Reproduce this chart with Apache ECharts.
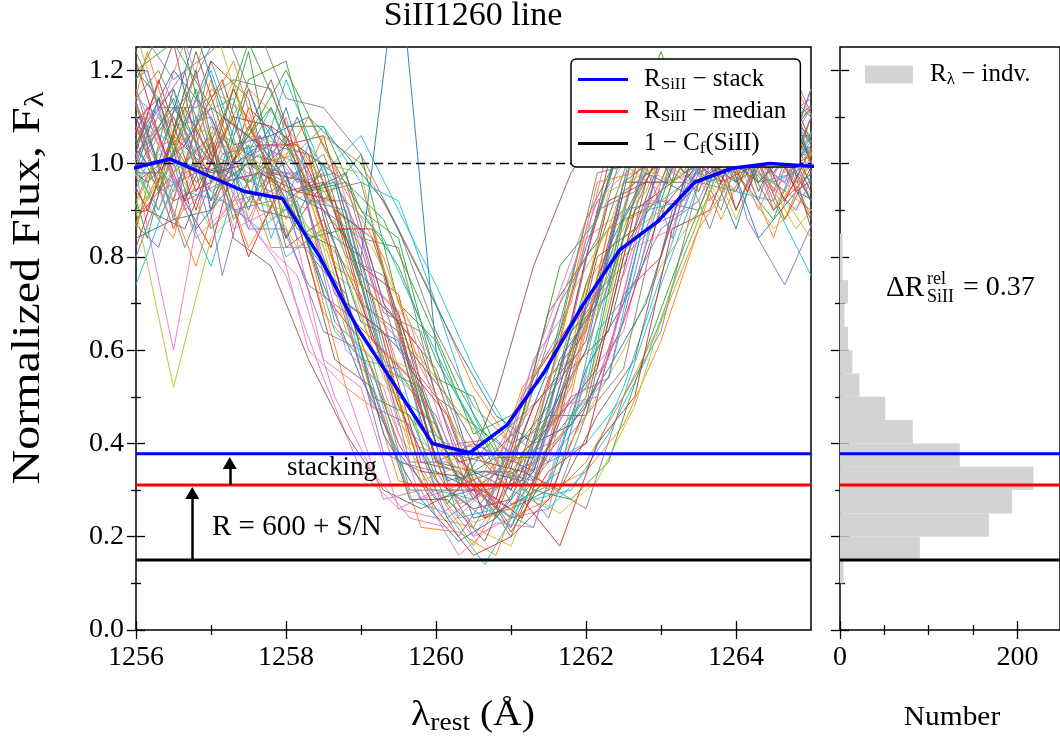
<!DOCTYPE html>
<html>
<head>
<meta charset="utf-8">
<script src="https://cdn.jsdelivr.net/npm/echarts@6/dist/echarts.min.js"></script>
<style>
html,body{margin:0;padding:0;background:#fff;}
#chart{width:1060px;height:750px;}
</style>
</head>
<body>
<div id="chart"></div>
<script>
// ---------------- DATA ----------------
const waveA = [1256.0,1256.5,1257.0,1257.5,1258.0,1258.5,1259.0,1259.5,1260.0,1260.5,1261.0,1261.5,1262.0,1262.5,1263.0,1263.5,1264.0,1264.5,1265.0];
const waveB = [1255.8,1256.3,1256.8,1257.3,1257.8,1258.3,1258.8,1259.3,1259.8,1260.3,1260.8,1261.3,1261.8,1262.3,1262.8,1263.3,1263.8,1264.3,1264.8,1265.3];
const waveC = [1255.65,1256.15,1256.65,1257.15,1257.65,1258.15,1258.65,1259.15,1259.65,1260.15,1260.65,1261.15,1261.65,1262.15,1262.65,1263.15,1263.65,1264.15,1264.65,1265.15];

const specA = [
  [1.02,1.12,1.00,0.96,1.04,0.90,0.80,1.45,0.60,0.34,0.30,0.44,0.66,0.88,1.02,0.96,1.04,0.98,1.06],
  [1.12,0.92,1.18,0.88,1.06,0.84,0.74,0.48,0.40,0.28,0.42,0.52,0.84,0.90,1.12,0.94,1.14,0.96,0.90],
  [0.86,1.16,0.96,1.24,0.84,1.00,0.74,0.66,0.36,0.32,0.20,0.40,0.50,0.88,0.92,1.16,0.98,0.88,1.10],
  [1.22,0.96,0.82,1.12,1.04,1.06,0.78,0.72,0.40,0.38,0.30,0.54,0.64,0.96,0.96,1.18,0.90,1.10,0.94],
  [0.80,1.02,1.12,0.86,0.86,0.64,0.60,0.36,0.34,0.22,0.36,0.40,0.70,0.78,1.00,0.94,1.12,0.92,1.16],
  [1.04,1.26,0.90,1.08,0.92,0.98,0.70,0.64,0.36,0.40,0.36,0.68,0.80,1.08,1.10,1.02,0.94,1.14,0.86],
  [0.98,0.60,1.04,0.86,1.10,0.78,0.72,0.44,0.38,0.20,0.24,0.26,0.54,0.64,0.96,0.98,1.18,0.90,1.06],
  [1.16,0.88,1.22,1.00,0.98,0.94,0.96,0.66,0.56,0.34,0.34,0.24,0.46,0.56,0.92,0.90,1.10,1.04,1.06],
  [0.90,0.52,0.84,0.92,0.90,0.84,0.56,0.50,0.24,0.22,0.18,0.38,0.50,0.84,0.90,1.08,0.88,1.08,1.02],
  [1.14,1.08,1.10,0.92,1.18,0.98,1.06,0.90,0.74,0.56,0.42,0.36,0.40,0.50,0.74,0.96,1.20,0.96,1.00],
  [0.84,0.88,0.90,1.16,0.94,0.90,0.66,0.62,0.34,0.30,0.24,0.46,0.60,0.96,1.02,1.06,0.86,1.12,1.06],
  [1.08,0.94,1.04,0.82,0.96,0.68,0.58,0.32,0.30,0.18,0.32,0.38,0.74,0.86,1.06,0.98,1.04,0.84,1.10],
  [1.18,1.34,1.02,1.26,1.08,1.08,0.90,0.84,0.54,0.50,0.32,0.46,0.46,0.80,0.88,1.16,0.96,1.20,1.00],
  [0.82,1.06,0.98,1.00,0.94,0.96,0.76,0.68,0.40,0.34,0.21,0.34,0.40,0.72,0.80,1.06,1.04,1.06,0.92],
  [1.10,0.86,1.08,1.02,1.00,0.90,0.84,0.54,0.46,0.28,0.38,0.46,0.80,0.90,1.18,0.98,1.02,0.94,1.16],
  [1.00,0.92,0.96,1.04,0.84,0.96,0.74,0.66,0.36,0.34,0.22,0.38,0.48,0.82,0.94,1.10,0.90,1.08,0.96],
  [1.16,0.96,1.02,0.98,0.94,0.58,0.52,0.26,0.30,0.20,0.32,0.36,0.66,0.76,1.00,0.96,1.14,0.94,1.04],
  [0.92,1.10,0.94,1.00,0.96,1.02,0.84,0.82,0.50,0.44,0.27,0.31,0.26,0.50,0.64,0.96,0.94,1.12,0.92],
  [1.28,1.02,1.32,1.06,1.04,1.00,0.98,0.64,0.54,0.32,0.38,0.38,0.68,0.80,1.12,1.12,1.16,0.96,0.84],
  [0.74,0.96,0.78,1.04,0.80,0.86,0.58,0.56,0.30,0.28,0.22,0.44,0.52,0.90,0.92,0.98,0.94,0.92,0.76],
  [1.04,1.20,1.10,0.90,1.12,0.86,0.80,0.50,0.44,0.24,0.26,0.30,0.56,0.70,1.02,1.08,0.96,1.02,1.12],
  [0.94,0.84,1.16,1.10,0.88,1.06,1.00,0.86,0.70,0.52,0.40,0.30,0.34,0.44,0.62,0.86,1.12,0.90,1.00],
  [1.20,1.10,0.92,1.18,1.22,0.92,1.02,0.70,0.62,0.42,0.46,0.56,0.88,1.04,1.24,1.02,1.08,1.16,1.04],
  [0.88,0.98,1.06,0.80,0.98,0.72,0.62,0.40,0.26,0.16,0.20,0.28,0.48,0.66,0.90,1.00,0.98,1.04,0.88],
  [1.06,1.16,0.86,0.96,1.06,0.92,0.86,0.60,0.50,0.30,0.26,0.36,0.46,0.70,0.86,0.92,1.10,0.98,1.12],
  [0.96,1.02,1.22,1.14,0.82,0.88,0.70,0.48,0.32,0.26,0.28,0.50,0.62,0.94,1.00,1.20,1.04,0.90,0.98],
  [1.02,1.10,0.94,0.88,0.76,0.54,0.34,0.26,0.24,0.30,0.44,0.66,0.88,1.00,0.94,1.08,1.00,0.96,1.04],
  [1.30,1.18,1.24,1.34,1.14,1.12,1.02,0.86,0.64,0.48,0.40,0.44,0.60,0.84,1.04,1.16,1.22,1.08,1.14],
  [0.90,1.00,0.86,0.94,0.92,0.80,0.62,0.42,0.30,0.23,0.26,0.32,0.46,0.60,0.78,0.90,0.98,0.86,0.94],
  [1.10,1.04,1.20,0.96,1.00,1.08,0.96,0.92,0.70,0.46,0.30,0.26,0.34,0.52,0.76,1.00,1.06,1.14,1.02],
  [0.98,1.14,0.92,1.06,0.96,0.74,0.54,0.38,0.28,0.30,0.36,0.56,0.82,1.06,1.14,1.02,0.96,1.08,0.92],
  [1.08,0.86,1.02,1.16,1.08,0.96,0.82,0.56,0.42,0.32,0.24,0.28,0.36,0.50,0.66,0.86,0.98,1.04,1.12],
  [1.20,1.26,1.12,1.06,1.20,1.04,0.90,0.78,0.58,0.44,0.38,0.48,0.74,0.98,1.22,1.12,1.04,1.18,1.10]
];
const specB = [
  [1.06,1.14,0.90,1.16,0.98,0.96,0.70,0.64,0.36,0.34,0.26,0.48,0.58,0.92,0.96,1.14,0.96,1.00,1.10,0.96],
  [0.90,0.82,1.08,0.90,0.92,0.74,0.68,0.38,0.34,0.20,0.32,0.36,0.64,0.74,1.00,1.00,1.04,0.98,0.90,1.06],
  [1.16,0.96,1.24,1.00,1.18,0.94,0.98,0.70,0.60,0.36,0.38,0.34,0.56,0.64,0.96,0.96,1.18,0.94,1.12,0.94],
  [0.92,1.06,0.84,0.92,0.94,0.90,0.60,0.52,0.28,0.31,0.28,0.58,0.70,1.04,1.04,1.04,0.98,1.00,0.94,1.10],
  [1.10,1.20,1.02,0.98,0.94,1.00,0.80,0.76,0.44,0.38,0.24,0.36,0.44,0.78,0.86,1.06,0.90,1.16,0.96,1.00],
  [0.84,1.02,0.98,1.18,0.88,0.94,0.64,0.56,0.32,0.35,0.30,0.52,0.58,0.94,0.98,1.18,0.94,1.04,1.04,1.10],
  [1.08,0.88,1.04,0.96,1.12,0.92,0.90,0.58,0.50,0.24,0.26,0.22,0.46,0.54,0.90,0.92,1.12,0.96,0.98,0.94],
  [1.22,1.00,1.28,1.04,1.06,1.10,1.02,0.92,0.76,0.60,0.46,0.40,0.44,0.56,0.70,0.96,1.06,1.06,1.10,1.16],
  [0.80,0.98,0.78,1.04,0.82,0.82,0.52,0.46,0.22,0.21,0.16,0.38,0.50,0.86,0.90,1.06,0.88,1.06,1.00,1.04],
  [1.12,0.94,1.16,0.88,0.98,0.84,0.86,0.56,0.52,0.32,0.37,0.37,0.64,0.72,1.02,1.00,1.20,0.96,1.04,0.98],
  [0.92,1.18,0.94,1.10,1.08,1.02,0.68,0.60,0.34,0.33,0.28,0.54,0.66,1.00,1.00,1.02,0.96,1.14,0.94,1.00],
  [1.26,0.94,0.98,1.00,1.04,1.02,0.96,0.68,0.64,0.40,0.41,0.32,0.50,0.54,0.86,0.90,1.10,0.92,1.18,1.00],
  [0.98,0.98,1.20,0.84,0.78,0.58,0.42,0.30,0.26,0.30,0.50,0.78,0.98,1.10,1.18,0.98,1.02,0.96,1.04,1.02],
  [1.10,0.90,1.14,0.86,0.90,0.60,0.52,0.28,0.30,0.16,0.23,0.22,0.48,0.58,0.92,0.92,1.10,0.90,1.08,0.94],
  [1.32,1.12,1.12,1.18,1.16,0.92,0.92,0.60,0.52,0.31,0.34,0.32,0.61,0.76,1.08,1.16,1.14,1.10,1.06,1.06],
  [0.96,1.08,1.00,0.92,1.02,0.86,0.76,0.54,0.42,0.27,0.30,0.40,0.72,0.86,1.10,1.04,0.92,1.00,0.86,0.96],
  [1.04,0.90,1.10,1.14,0.84,1.04,0.92,0.84,0.66,0.50,0.36,0.28,0.30,0.42,0.58,0.80,1.00,1.08,1.00,1.12],
  [0.88,1.14,0.86,0.96,1.08,0.82,0.72,0.42,0.28,0.19,0.24,0.34,0.60,0.82,0.98,0.94,1.06,0.84,0.94,0.90],
  [1.18,1.04,1.06,1.22,0.96,1.10,0.94,0.80,0.56,0.42,0.34,0.40,0.52,0.86,0.94,1.14,1.02,1.10,1.16,1.02],
  [1.00,1.10,0.96,1.02,1.12,0.94,0.96,0.88,0.70,0.52,0.38,0.30,0.28,0.36,0.60,0.82,1.02,0.96,1.04,1.00]
];
const specC = [
  [1.06,0.90,1.12,0.96,0.98,0.94,0.92,0.62,0.54,0.30,0.30,0.24,0.46,0.56,0.90,0.96,1.10,0.94,1.12,0.96],
  [1.14,1.20,0.92,0.96,0.98,0.98,0.72,0.66,0.36,0.36,0.26,0.46,0.54,0.90,0.94,1.16,0.96,1.02,0.96,1.16],
  [0.88,0.90,0.86,1.06,0.90,0.88,0.58,0.52,0.28,0.28,0.19,0.38,0.46,0.80,0.86,1.08,1.02,1.06,0.88,1.04],
  [1.08,1.04,1.26,1.02,1.06,0.96,1.00,0.74,0.66,0.40,0.39,0.30,0.48,0.50,0.82,0.86,1.08,1.04,1.06,0.98],
  [0.90,1.06,0.82,1.02,1.04,1.00,0.66,0.58,0.30,0.30,0.24,0.50,0.64,0.98,1.00,1.06,0.86,1.10,1.02,1.02],
  [1.18,0.92,1.08,1.06,0.96,0.82,0.88,0.60,0.56,0.36,0.40,0.36,0.60,0.68,1.00,0.96,1.04,1.00,1.04,0.96],
  [0.82,1.00,0.94,0.92,0.86,0.92,0.64,0.56,0.28,0.25,0.14,0.28,0.34,0.64,0.74,1.02,0.96,1.00,0.94,1.12],
  [1.10,1.00,1.00,0.98,1.04,0.94,0.96,0.66,0.58,0.32,0.34,0.32,0.58,0.70,1.04,1.04,1.06,0.98,1.18,0.92],
  [0.92,1.24,0.98,1.04,1.00,1.02,0.78,0.72,0.40,0.37,0.28,0.52,0.62,0.96,0.98,1.04,1.00,1.06,0.88,1.08],
  [1.12,0.84,1.16,0.96,1.02,0.86,0.82,0.50,0.46,0.27,0.39,0.46,0.78,0.88,1.14,0.96,1.02,1.02,1.08,0.90],
  [0.94,1.12,0.92,1.10,1.04,1.04,0.86,0.86,0.56,0.46,0.24,0.28,0.18,0.40,0.50,0.86,0.90,1.10,0.92,1.08],
  [0.80,1.08,1.20,0.76,1.06,0.84,0.74,0.48,0.44,0.24,0.30,0.32,0.62,0.72,1.06,0.84,1.18,0.88,0.74,0.92],
  [1.02,0.96,1.04,1.18,0.92,1.10,0.90,0.84,0.60,0.50,0.36,0.34,0.30,0.46,0.58,0.90,0.98,1.02,1.08,0.94],
  [0.96,1.12,0.90,0.98,0.84,0.76,0.50,0.34,0.24,0.22,0.30,0.48,0.70,0.92,1.00,1.10,0.92,1.02,0.96,1.06],
  [1.24,1.04,1.14,1.30,1.10,0.96,0.98,0.68,0.60,0.38,0.36,0.44,0.70,0.84,1.12,1.02,1.18,1.06,1.00,0.84],
  [1.06,0.94,1.00,1.08,0.98,1.04,0.90,0.82,0.66,0.50,0.40,0.30,0.25,0.32,0.48,0.74,0.94,1.06,0.98,1.04]
];

const waveStack = [1255.95,1256.45,1256.95,1257.45,1257.95,1258.45,1258.95,1259.45,1259.95,1260.45,1260.95,1261.45,1261.95,1262.45,1262.95,1263.45,1263.95,1264.45,1264.95,1265.45];
const fluxStack = [0.99,1.01,0.975,0.94,0.925,0.80,0.648,0.525,0.40,0.38,0.44,0.555,0.695,0.815,0.875,0.96,0.99,1.00,0.995,0.99];

const levelNames = ['stack','median','cf'];
const levelValues = [0.378, 0.311, 0.150];
const continuumLevel = [1.0];

const histEdges = [0.10,0.15,0.20,0.25,0.30,0.35,0.40,0.45,0.50,0.55,0.60,0.65,0.70,0.75,0.80,0.85];
const histCounts = [4,90,168,194,218,135,82,51,22,14,9,5,9,3,3];

const xTicks = [1256,1258,1260,1262,1264];
const yTicks = [0,0.2,0.4,0.6,0.8,1.0,1.2];
const histTicks = [0,200];

// arrows: [x, yFrom, yTo]
const arrowBig = [1256.75, 0.150, 0.294];
const arrowSmall = [1257.25, 0.311, 0.358];

// ---------------- STYLE ----------------
const FONT = '"Liberation Serif", "DejaVu Serif", serif';
const tab10 = ['#1f77b4','#ff7f0e','#2ca02c','#d62728','#9467bd','#8c564b','#e377c2','#7f7f7f','#bcbd22','#17becf'];
const levelColors = ['#0000ff','#ff0000','#000000'];

const chart = echarts.init(document.getElementById('chart'), null, {renderer:'canvas'});

const series = [];
let k = 0;
function addSpectra(wave, list) {
  list.forEach(fl => {
    series.push({
      type:'line', xAxisIndex:0, yAxisIndex:0, silent:true, symbol:'none',
      lineStyle:{width:0.9, color:tab10[k % 10]},
      data: wave.map((w,j)=>[w, fl[j]]), z:2
    });
    k++;
  });
}
addSpectra(waveA, specA);
addSpectra(waveB, specB);
addSpectra(waveC, specC);

// dashed continuum
series.push({
  type:'line', xAxisIndex:0, yAxisIndex:0, silent:true, symbol:'none',
  lineStyle:{width:1.5, color:'#000', type:[9,5]},
  data:[[1256, continuumLevel[0]],[1265, continuumLevel[0]]], z:3
});

// histogram
series.push({
  type:'custom', name:'indv', xAxisIndex:2, yAxisIndex:2, silent:true,
  data: histCounts.map((c,i)=>[histEdges[i], histEdges[i+1], c]),
  encode:{x:2, y:[0,1]},
  itemStyle:{color:'#d3d3d3'},
  renderItem:function(params, api){
    const lo = api.value(0), hi = api.value(1), n = api.value(2);
    const p0 = api.coord([0, hi]);
    const p1 = api.coord([n, lo]);
    return {type:'rect', shape:{x:p0[0], y:p0[1], width:p1[0]-p0[0], height:p1[1]-p0[1]}, style:{fill:'#d3d3d3'}};
  }, z:2
});

// horizontal levels
levelValues.forEach((v,i)=>{
  series.push({
    type:'line', name:levelNames[i], xAxisIndex:0, yAxisIndex:0, silent:true, symbol:'none',
    lineStyle:{width:3, color:levelColors[i]}, itemStyle:{color:levelColors[i]},
    data:[[1256, v],[1265, v]], z:4
  });
  series.push({
    type:'line', name:levelNames[i]+'_h', xAxisIndex:2, yAxisIndex:2, silent:true, symbol:'none',
    lineStyle:{width:3, color:levelColors[i]},
    data:[[0, v],[300, v]], z:4
  });
});

// stacked profile
series.push({
  type:'line', name:'stackprofile', xAxisIndex:0, yAxisIndex:0, silent:true, symbol:'none',
  lineStyle:{width:3.5, color:'#0000ff'},
  data: waveStack.map((w,j)=>[w, fluxStack[j]]), z:5
});

// arrows
series.push({
  type:'line', xAxisIndex:0, yAxisIndex:0, silent:true, symbol:'none', data:[],
  markLine:{
    silent:true, symbol:['none','triangle'], symbolSize:[14,12], animation:false,
    label:{show:false},
    lineStyle:{color:'#000', width:2.5, type:'solid'},
    emphasis:{disabled:true},
    data:[
      [{coord:[arrowBig[0], arrowBig[1]]},{coord:[arrowBig[0], arrowBig[2]]}],
      [{coord:[arrowSmall[0], arrowSmall[1]]},{coord:[arrowSmall[0], arrowSmall[2]]}]
    ]
  }, z:6
});

function valAxis(grid, min, max, opt) {
  return Object.assign({
    type:'value', gridIndex:grid, min:min, max:max,
    splitLine:{show:false},
    axisLine:{show:false},
  }, opt);
}
const tickLine = {color:'#000', width:1.3};

const xAxis = [
  valAxis(0, 1256, 1265, {interval:2, position:'bottom',
    axisTick:{show:true, length:9, lineStyle:tickLine, customValues:xTicks},
    minorTick:{show:true, splitNumber:2, length:5, lineStyle:tickLine},
    axisLabel:{show:true, customValues:xTicks, color:'#000', fontFamily:FONT, fontSize:28, margin:14,
      formatter:v=>String(v)}
  }),
  valAxis(0, 1256, 1265, {interval:2, position:'bottom',
    axisTick:{show:true, inside:true, length:9, lineStyle:tickLine, customValues:xTicks},
    minorTick:{show:true, splitNumber:2, length:5, lineStyle:tickLine},
    axisLabel:{show:false}
  }),
  valAxis(1, 0, 248, {interval:200, position:'bottom',
    axisTick:{show:true, length:9, lineStyle:tickLine, customValues:histTicks},
    minorTick:{show:true, splitNumber:4, length:5, lineStyle:tickLine},
    axisLabel:{show:true, customValues:histTicks, color:'#000', fontFamily:FONT, fontSize:28, margin:14,
      formatter:v=>String(v)}
  }),
  valAxis(1, 0, 248, {interval:200, position:'bottom',
    axisTick:{show:true, inside:true, length:9, lineStyle:tickLine, customValues:histTicks},
    minorTick:{show:true, splitNumber:4, length:5, lineStyle:tickLine},
    axisLabel:{show:false}
  })
];

const yAxis = [
  valAxis(0, 0, 1.25, {interval:0.2, position:'left',
    axisTick:{show:true, length:9, lineStyle:tickLine, customValues:yTicks},
    minorTick:{show:true, splitNumber:2, length:5, lineStyle:tickLine},
    axisLabel:{show:true, customValues:yTicks, color:'#000', fontFamily:FONT, fontSize:28, margin:12,
      formatter:v=>v.toFixed(1)}
  }),
  valAxis(0, 0, 1.25, {interval:0.2, position:'left',
    axisTick:{show:true, inside:true, length:9, lineStyle:tickLine, customValues:yTicks},
    minorTick:{show:true, splitNumber:2, length:5, lineStyle:tickLine},
    axisLabel:{show:false}
  }),
  valAxis(1, 0, 1.25, {interval:0.2, position:'left',
    axisTick:{show:true, length:9, lineStyle:tickLine, customValues:yTicks},
    minorTick:{show:true, splitNumber:2, length:5, lineStyle:tickLine},
    axisLabel:{show:false}
  }),
  valAxis(1, 0, 1.25, {interval:0.2, position:'left',
    axisTick:{show:true, inside:true, length:9, lineStyle:tickLine, customValues:yTicks},
    minorTick:{show:true, splitNumber:2, length:5, lineStyle:tickLine},
    axisLabel:{show:false}
  })
];

const subStyle = (size, pad) => ({fontSize:size, fontFamily:FONT, color:'#000', padding:[pad,0,0,0]});

const legendLabels = {
  stack:'R{s|SiII} − stack',
  median:'R{s|SiII} − median',
  cf:'1 − C{s|f}(SiII)'
};

const option = {
  animation:false,
  backgroundColor:'#fff',
  grid:[
    {left:136, top:47, width:675, height:583, show:true, borderColor:'#000', borderWidth:1.5, backgroundColor:'transparent', containLabel:false},
    {left:840, top:47, width:222, height:583, show:true, borderColor:'#000', borderWidth:1.5, backgroundColor:'transparent', containLabel:false}
  ],
  xAxis:xAxis,
  yAxis:yAxis,
  legend:[
    {
      data:levelNames, orient:'vertical', left:571, top:59,
      icon:'rect', itemWidth:50, itemHeight:3, itemGap:6,
      padding:[8,14,10,7],
      backgroundColor:'#fff', borderColor:'#000', borderWidth:1.5, borderRadius:5,
      selectedMode:false,
      formatter:name=>legendLabels[name],
      textStyle:{fontFamily:FONT, fontSize:25, color:'#000', padding:[0,0,0,11],
        rich:{s:subStyle(17,10)}}
    },
    {
      data:['indv'], orient:'vertical', left:865, top:62,
      icon:'rect', itemWidth:48, itemHeight:18,
      padding:0, selectedMode:false,
      formatter:()=>'R{s|λ} − indv.',
      textStyle:{fontFamily:FONT, fontSize:25, color:'#000', padding:[0,0,0,12],
        rich:{s:subStyle(17,10)}}
    }
  ],
  series:series,
  graphic:[
    {type:'text', x:473, y:16, silent:true, style:{text:'SiII1260 line', fontFamily:FONT, fontSize:34, fill:'#000', align:'center', verticalAlign:'middle'}},
    {type:'text', x:28, y:288, rotation:Math.PI/2, scaleX:1.2, silent:true, style:{text:'Normalized Flux, F{s|λ}', fontFamily:FONT, fontSize:40, fill:'#000', align:'center', verticalAlign:'middle', rich:{s:{fontSize:27, fontFamily:FONT, fill:'#000', padding:[16,0,0,0]}}}},
    {type:'text', x:473, y:716, scaleX:1.1, silent:true, style:{text:'λ{s|rest} (Å)', fontFamily:FONT, fontSize:36, fill:'#000', align:'center', verticalAlign:'middle', rich:{s:{fontSize:25, fontFamily:FONT, fill:'#000', padding:[15,0,0,0]}}}},
    {type:'text', x:952, y:718, scaleX:1.05, silent:true, style:{text:'Number', fontFamily:FONT, fontSize:28, fill:'#000', align:'center', verticalAlign:'middle'}},
    {type:'text', x:332, y:468, silent:true, style:{text:'stacking', fontFamily:FONT, fontSize:27, fill:'#000', align:'center', verticalAlign:'middle'}, z:10},
    {type:'text', x:212, y:527, silent:true, style:{text:'R = 600 + S/N', fontFamily:FONT, fontSize:29, fill:'#000', align:'left', verticalAlign:'middle'}, z:10},
    {type:'text', x:886, y:288, silent:true, style:{text:'ΔR', fontFamily:FONT, fontSize:29, fill:'#000', align:'left', verticalAlign:'middle'}},
    {type:'text', x:927, y:279, silent:true, style:{text:'rel', fontFamily:FONT, fontSize:18, fill:'#000', align:'left', verticalAlign:'middle'}},
    {type:'text', x:927, y:297, silent:true, style:{text:'SiII', fontFamily:FONT, fontSize:18, fill:'#000', align:'left', verticalAlign:'middle'}},
    {type:'text', x:963, y:288, silent:true, style:{text:'= 0.37', fontFamily:FONT, fontSize:28, fill:'#000', align:'left', verticalAlign:'middle'}}
  ]
};
chart.setOption(option);
</script>
</body>
</html>
